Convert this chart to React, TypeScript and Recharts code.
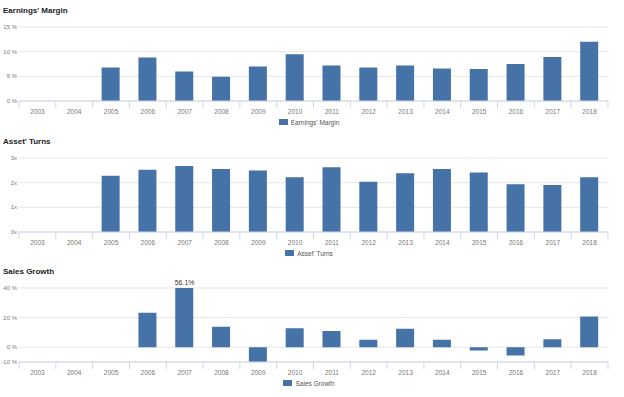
import React from 'react';
import { BarChart, Bar, XAxis, YAxis, CartesianGrid, ReferenceDot } from 'recharts';

const years = ['2003', '2004', '2005', '2006', '2007', '2008', '2009', '2010', '2011', '2012', '2013', '2014', '2015', '2016', '2017', '2018'];
const earningsMargin: (number | null)[] = [null, null, 6.8, 8.8, 6.0, 4.9, 7.0, 9.5, 7.2, 6.8, 7.2, 6.6, 6.5, 7.5, 8.9, 12.0];
const assetTurns: (number | null)[] = [null, null, 2.28, 2.52, 2.68, 2.55, 2.49, 2.22, 2.63, 2.04, 2.38, 2.55, 2.41, 1.94, 1.91, 2.22];
const salesGrowth: (number | null)[] = [null, null, null, 23.2, 56.1, 13.9, -10.0, 12.8, 11.0, 5.0, 12.4, 5.0, -2.2, -5.6, 5.4, 20.7];

const earningsTicks = [0, 5, 10, 15];
const turnsTicks = [0, 1, 2, 3];
const growthTicks = [-10, 0, 20, 40];

const BAR = '#4572A7';
const FONT = '"Liberation Sans", Arial, sans-serif';
const NBSP = '\u00a0';

const YearTick = (props: any) => {
  const { x, y, payload } = props;
  const half = payload && typeof payload.offset === 'number' && payload.offset > 0 ? payload.offset : 18.4;
  const isLast = payload.value === years[years.length - 1];
  return (
    <g>
      <text x={x} y={y + 13} textAnchor="middle" fontSize={6.5} fill="#777" fontFamily={FONT}>
        {payload.value}
      </text>
      <line x1={x - half} x2={x - half} y1={y} y2={y + 7} stroke="#ccd6eb" />
      {isLast && <line x1={x + half} x2={x + half} y1={y} y2={y + 7} stroke="#ccd6eb" />}
    </g>
  );
};

type PanelProps = {
  top: number;
  title: string;
  name: string;
  values: (number | null)[];
  ticks: number[];
  fmt: (v: number) => string;
  labelFmt?: (v: number) => string;
};

const Panel = ({ top, title, name, values, ticks, fmt, labelFmt }: PanelProps) => {
  const data = years.map((y, i) => ({ year: y, value: values[i] }));
  const min = ticks[0];
  const max = ticks[ticks.length - 1];
  const overflow = data.filter((d) => d.value !== null && (d.value as number) > max);
  return (
    <div style={{ position: 'absolute', left: 0, top, width: 624, height: 131 }}>
      <BarChart width={624} height={120} data={data} margin={{ top: 27, right: 16, bottom: 7, left: 0 }}>
        <CartesianGrid horizontal vertical={false} stroke="#e6e6e6" />
        <XAxis
          dataKey="year"
          interval={0}
          tickLine={false}
          tickSize={0}
          tickMargin={0}
          height={12}
          axisLine={{ stroke: '#ccd6eb' }}
          tick={<YearTick />}
        />
        <YAxis
          width={19}
          domain={[min, max]}
          ticks={ticks}
          interval={0}
          allowDataOverflow
          axisLine={false}
          tickLine={false}
          tickSize={0}
          tickMargin={2}
          tickFormatter={fmt}
          tick={{ fontSize: 6, fill: '#777', fontFamily: FONT }}
        />
        <Bar dataKey="value" name={name} fill={BAR} barSize={18} isAnimationActive={false} />
        {overflow.map((d) => (
          <ReferenceDot
            key={d.year}
            x={d.year}
            y={max}
            r={0}
            fill="none"
            stroke="none"
            ifOverflow="visible"
            label={{
              value: labelFmt ? labelFmt(d.value as number) : String(d.value),
              position: 'top',
              offset: 3,
              fontSize: 7,
              fill: '#333',
              fontFamily: FONT,
            }}
          />
        ))}
      </BarChart>
      <div
        style={{
          position: 'absolute',
          left: 3,
          top: 6,
          fontFamily: FONT,
          fontWeight: 'bold',
          fontSize: 8,
          lineHeight: '9px',
          color: '#222',
          whiteSpace: 'nowrap',
        }}
      >
        {title}
      </div>
      <div
        style={{
          position: 'absolute',
          left: 0,
          top: 117,
          width: 618,
          height: 10,
          display: 'flex',
          justifyContent: 'center',
          alignItems: 'center',
          fontFamily: FONT,
          fontSize: 6.5,
          color: '#555',
        }}
      >
        <span style={{ display: 'inline-block', width: 9, height: 6, background: BAR, marginRight: 3 }} />
        <span>{name}</span>
      </div>
    </div>
  );
};

export default function App() {
  return (
    <div style={{ position: 'absolute', left: 0, top: 0, width: 624, height: 397, background: '#fff', overflow: 'hidden' }}>
      <Panel
        top={0}
        title="Earnings' Margin"
        name="Earnings' Margin"
        values={earningsMargin}
        ticks={earningsTicks}
        fmt={(v) => `${v}${NBSP}%`}
      />
      <Panel
        top={131}
        title="Asset' Turns"
        name="Asset' Turns"
        values={assetTurns}
        ticks={turnsTicks}
        fmt={(v) => `${v}x`}
      />
      <Panel
        top={261}
        title="Sales Growth"
        name="Sales Growth"
        values={salesGrowth}
        ticks={growthTicks}
        fmt={(v) => `${v}${NBSP}%`}
        labelFmt={(v) => `${v.toFixed(1)}%`}
      />
    </div>
  );
}
